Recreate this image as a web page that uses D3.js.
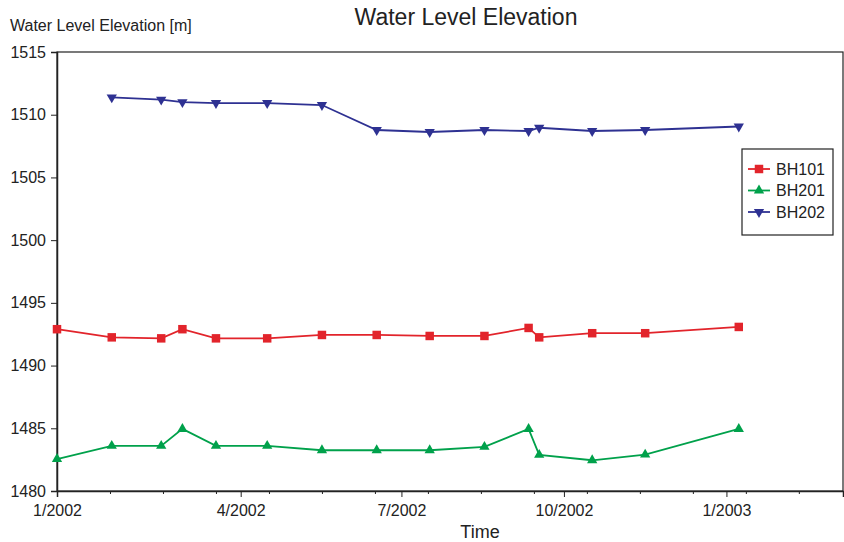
<!DOCTYPE html>
<html>
<head>
<meta charset="utf-8">
<script src="https://cdn.jsdelivr.net/npm/d3@7"></script>
<style>
  body { margin: 0; background: #fff; }
  svg { display: block; font-family: "Liberation Sans", Arial, sans-serif; }
</style>
</head>
<body>
<div id="chart"></div>
<script>
// sample dates (roughly monthly)
const dates = ["2001-12-18", "2002-01-18", "2002-02-15", "2002-02-27", "2002-03-18",
  "2002-04-16", "2002-05-17", "2002-06-17", "2002-07-17", "2002-08-17",
  "2002-09-11", "2002-09-17", "2002-10-17", "2002-11-16", "2003-01-08"];
const bh101 = [1492.9, 1492.25, 1492.17, 1492.9, 1492.17, 1492.17, 1492.44, 1492.44,
  1492.36, 1492.36, 1493.0, 1492.25, 1492.58, 1492.58, 1493.08];
const bh201 = [1482.55, 1483.6, 1483.6, 1484.95, 1483.6, 1483.6, 1483.25, 1483.25,
  1483.25, 1483.52, 1484.95, 1482.88, 1482.45, 1482.9, 1484.95];
const bh202 = [null, 1511.38, 1511.2, 1511.0, 1510.93, 1510.93, 1510.77, 1508.78,
  1508.62, 1508.78, 1508.7, 1508.96, 1508.7, 1508.78, 1509.06];
const seriesNames = ["BH101", "BH201", "BH202"];
const xTickDates = ["2001-12-18", "2002-04-01", "2002-07-01", "2002-10-01", "2003-01-01"];
const xTickLabels = ["1/2002", "4/2002", "7/2002", "10/2002", "1/2003"];
const yTicks = [1480, 1485, 1490, 1495, 1500, 1505, 1510, 1515];

const parse = d3.utcParse("%Y-%m-%d");
const colors = ["#e2242b", "#00a14b", "#2e3192"];

const W = 844, H = 542;
const margin = { top: 52, right: 1, bottom: 51, left: 57 };
const width = W - margin.left - margin.right;
const height = H - margin.top - margin.bottom;

const svg = d3.select("#chart").append("svg").attr("width", W).attr("height", H);

const xDomain = [parse("2001-12-18"), parse("2003-03-08")];
const x = d3.scaleUtc().domain(xDomain).range([margin.left, margin.left + width]);
const y = d3.scaleLinear().domain([1480, 1515]).range([margin.top + height, margin.top]);

// frame
svg.append("rect")
  .attr("x", margin.left).attr("y", margin.top)
  .attr("width", width).attr("height", height)
  .attr("fill", "none").attr("stroke", "#222").attr("stroke-width", 1.2);

// minor x ticks every 30 days
const minor = d3.range(0, 446, 30).map(d => d3.utcDay.offset(xDomain[0], d));
svg.append("g")
  .attr("transform", `translate(0,${margin.top + height})`)
  .call(d3.axisBottom(x).tickValues(minor).tickSize(3).tickFormat(""))
  .call(g => g.select(".domain").remove())
  .selectAll("line").attr("stroke", "#222");

// major x ticks
const xAxis = svg.append("g")
  .attr("transform", `translate(0,${margin.top + height})`)
  .call(d3.axisBottom(x)
    .tickValues(xTickDates.map(parse))
    .tickSize(6)
    .tickPadding(8)
    .tickFormat((d, i) => xTickLabels[i]));
xAxis.select(".domain").attr("stroke", "#222").attr("stroke-width", 1.5);
xAxis.selectAll("line").attr("stroke", "#222");
xAxis.selectAll("text").attr("font-size", 16).attr("fill", "#222")
  .attr("font-family", "Liberation Sans, Arial, sans-serif");

const yAxis = svg.append("g")
  .attr("transform", `translate(${margin.left},0)`)
  .call(d3.axisLeft(y).tickValues(yTicks).tickSize(6).tickPadding(5).tickFormat(d3.format("d")));
yAxis.select(".domain").attr("stroke", "#222").attr("stroke-width", 1.5);
yAxis.selectAll("line").attr("stroke", "#222");
yAxis.selectAll("text").attr("font-size", 16).attr("fill", "#222")
  .attr("font-family", "Liberation Sans, Arial, sans-serif");

// titles
svg.append("text").attr("x", 466).attr("y", 25).attr("text-anchor", "middle")
  .attr("font-size", 23).attr("fill", "#222").text("Water Level Elevation");
svg.append("text").attr("x", 10).attr("y", 31)
  .attr("font-size", 16).attr("fill", "#222").text("Water Level Elevation [m]");
svg.append("text").attr("x", 480).attr("y", 538).attr("text-anchor", "middle")
  .attr("font-size", 18).attr("fill", "#222").text("Time");

// series
const symbols = [
  d3.symbol().type(d3.symbolSquare).size(72),
  d3.symbol().type(d3.symbolTriangle).size(46),
  d3.symbol().type(d3.symbolTriangle).size(46)
];
const rot = [0, 0, 180];
const allSeries = [bh101, bh201, bh202];

const line = d3.line()
  .defined(d => d.v != null)
  .x(d => x(d.t)).y(d => y(d.v));

allSeries.forEach((vals, i) => {
  const pts = vals.map((v, j) => ({ t: parse(dates[j]), v }));
  const g = svg.append("g");
  g.append("path").datum(pts).attr("d", line)
    .attr("fill", "none").attr("stroke", colors[i]).attr("stroke-width", 1.8);
  g.selectAll("path.m").data(pts.filter(d => d.v != null)).enter()
    .append("path").attr("class", "m")
    .attr("d", symbols[i])
    .attr("transform", d => `translate(${x(d.t)},${y(d.v)}) rotate(${rot[i]})`)
    .attr("fill", colors[i]);
});

// legend
const lg = svg.append("g").attr("transform", "translate(742,149)");
lg.append("rect").attr("width", 91).attr("height", 86)
  .attr("fill", "#fff").attr("stroke", "#222").attr("stroke-width", 1.2);
seriesNames.forEach((name, i) => {
  const cy = 20 + i * 21.5;
  lg.append("line").attr("x1", 6).attr("x2", 28).attr("y1", cy).attr("y2", cy)
    .attr("stroke", colors[i]).attr("stroke-width", 1.8);
  lg.append("path").attr("d", symbols[i])
    .attr("transform", `translate(17,${cy}) rotate(${rot[i]})`)
    .attr("fill", colors[i]);
  lg.append("text").attr("x", 34).attr("y", cy + 5.5)
    .attr("font-size", 16).attr("fill", "#222").text(name);
});
</script>
</body>
</html>
